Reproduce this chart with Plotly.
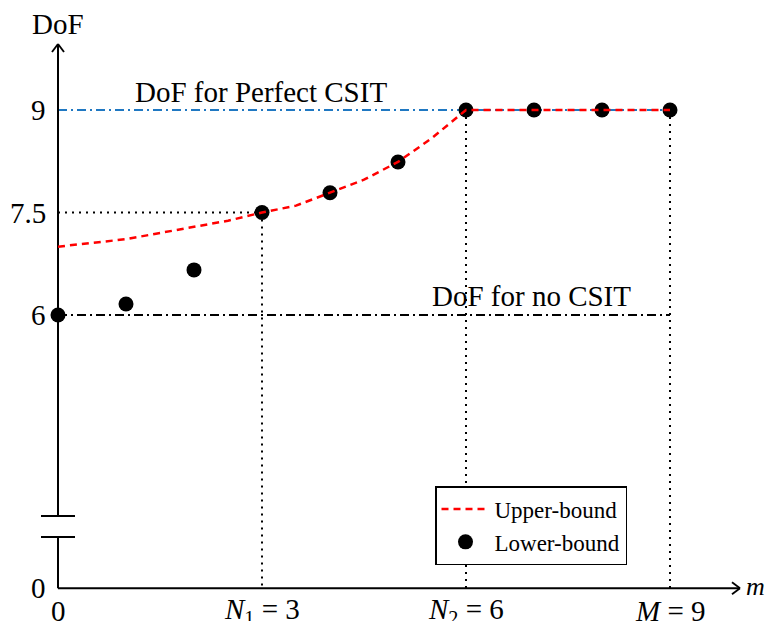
import plotly.graph_objects as go

# ---------------- data ----------------
m_lower = [0, 1, 2, 3, 4, 5, 6, 7, 8, 9]
dof_lower = [6.0, 6.16, 6.66, 7.5, 7.79, 8.24, 9.0, 9.0, 9.0, 9.0]

m_upper = [0, 0.5, 1, 1.5, 2, 2.5, 3, 3.5, 4, 4.5, 5, 5.5, 6, 7, 8, 9]
dof_upper = [7.0, 7.05, 7.11, 7.2, 7.29, 7.38, 7.5, 7.6, 7.79, 7.98, 8.24, 8.59, 9.0, 9.0, 9.0, 9.0]

dof_perfect = 9
dof_none = 6
y_ticks = [0, 6, 7.5, 9]
y_tick_text = ["0", "6", "7.5", "9"]
x_ticks = [0, 3, 6, 9]
x_tick_text = ["0", "<i>N</i><sub>1</sub> = 3", "<i>N</i><sub>2</sub> = 6", "<i>M</i> = 9"]
n1, n2, M = 3, 6, 9
mark_75 = 7.5

# ---------------- layout helpers ----------------
PAGE_W, PAGE_H = 776, 621
OFF = 8                      # body margin of the html page
W, H = PAGE_W - OFF, PAGE_H - OFF
X0PX, KX = 58, 68.0          # page pixel of m=0, px per unit
Y6PX, KY = 315, 68.33        # page pixel of DoF=6, px per unit
BASE = 2.0                   # display position of the broken axis' zero
BREAK_LO, BREAK_HI = 2.75, 3.06

def disp(v):
    return v if v >= 4 else BASE + v

FONT = "Liberation Serif"
FS = 29

fig = go.Figure()

fig.add_trace(go.Scatter(
    x=m_lower, y=dof_lower, mode="markers", name="Lower-bound",
    marker=dict(color="black", size=15), legendrank=2))
fig.add_trace(go.Scatter(
    x=m_upper, y=dof_upper, mode="lines", name="Upper-bound",
    line=dict(color="#ff0000", width=2.5, dash="7px,5px"), legendrank=1))

shapes = []
def line(x0, y0, x1, y1, color="black", width=2, dash="solid"):
    shapes.append(dict(type="line", xref="x", yref="y", x0=x0, y0=y0, x1=x1, y1=y1,
                       line=dict(color=color, width=width, dash=dash), layer="below"))

# reference lines
line(0, dof_perfect, M, dof_perfect, color="#1f78c2", width=2, dash="9px,4px,2px,4px")
line(0, dof_none, M, dof_none, color="black", width=2, dash="9px,4px,2px,4px")
# dotted guides
dot = "2px,5px"
line(0, mark_75, n1, mark_75, width=2, dash=dot)
line(n1, mark_75, n1, BASE, width=2, dash=dot)
line(n2, dof_perfect, n2, BASE, width=2, dash=dot)
line(M, dof_perfect, M, BASE, width=2, dash=dot)

# axes
x_end = (740 - X0PX) / KX
y_end = 6 + (Y6PX - 44) / KY
line(0, BASE, x_end, BASE, width=2)
line(0, BASE, 0, BREAK_LO, width=2)
line(0, BREAK_HI, 0, y_end, width=2)
# break marks
line(-0.25, BREAK_LO, 0.25, BREAK_LO, width=2)
line(-0.25, BREAK_HI, 0.25, BREAK_HI, width=2)
# arrow heads
ax, ay = 8 / KX, 6 / KY
line(x_end, BASE, x_end - ax, BASE + ay, width=1.8)
line(x_end, BASE, x_end - ax, BASE - ay, width=1.8)
bx, by = 6 / KX, 8 / KY
line(0, y_end, -bx, y_end - by, width=1.8)
line(0, y_end, bx, y_end - by, width=1.8)

annotations = []
def text(x, y, s, size=FS, xanchor="center", yanchor="middle"):
    annotations.append(dict(x=x, y=y, xref="x", yref="y", text=s, showarrow=False,
                            xanchor=xanchor, yanchor=yanchor,
                            font=dict(family=FONT, size=size, color="black")))

for v, t in zip(y_ticks, y_tick_text):
    text(-0.14, disp(v), t, xanchor="right")
for v, t in zip(x_ticks, x_tick_text):
    text(v, BASE - 0.33, t)

text(0, 6 + (Y6PX - 24) / KY, "DoF")
text((755 - X0PX) / KX, BASE + 0.03, "<i>m</i>", size=26)
text(2.985, dof_perfect + 0.27, "DoF for Perfect CSIT")
text(6.97, dof_none + 0.28, "DoF for no CSIT")

fig.update_layout(
    width=W, height=H,
    margin=dict(l=0, r=0, t=0, b=0),
    paper_bgcolor="white", plot_bgcolor="white",
    xaxis=dict(range=[(OFF - X0PX) / KX, (PAGE_W - X0PX) / KX], visible=False, fixedrange=True),
    yaxis=dict(range=[6 - (PAGE_H - Y6PX) / KY, 6 + (Y6PX - OFF) / KY], visible=False, fixedrange=True),
    shapes=shapes, annotations=annotations,
    showlegend=True,
    legend=dict(x=(435 - OFF) / W, y=1 - (486 - OFF) / H, xanchor="left", yanchor="top",
                bordercolor="black", borderwidth=1.5, bgcolor="white",
                font=dict(family=FONT, size=23, color="black"),
                itemwidth=48, tracegroupgap=0),
)

fig.write_html("out.html")
